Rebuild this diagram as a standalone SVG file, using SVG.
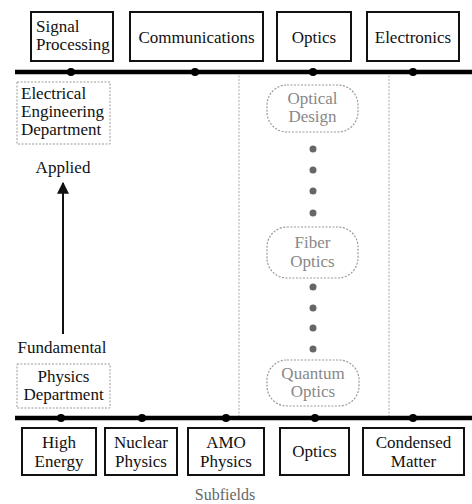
<svg xmlns="http://www.w3.org/2000/svg" width="472" height="504" viewBox="0 0 472 504">
<style>
text{font-family:'Liberation Serif','Times New Roman','DejaVu Serif',serif;font-size:17px;fill:#111;text-anchor:middle}
.box{fill:#fff;stroke:#111;stroke-width:2}
.dept{fill:#fff;stroke:#999;stroke-width:1;stroke-dasharray:2 1.5}
.sub{fill:#fff;stroke:#999;stroke-width:1.2;stroke-dasharray:2 1.5}
.gt{fill:#888}
.bus{stroke:#000;stroke-width:4.5}
.div{stroke:#aaa;stroke-width:1;stroke-dasharray:2 1.5}
.dot{fill:#000}
.gdot{fill:#666}
</style>
<defs>
<marker id="ah" viewBox="0 0 10 10" refX="9" refY="5" markerWidth="6" markerHeight="6" orient="auto"><path d="M0,0L10,5L0,10z" fill="#111"/></marker>
</defs>
<g id="connectors">
<line class="div" x1="239" y1="72" x2="239" y2="418"/>
<line class="div" x1="389" y1="72" x2="389" y2="418"/>
<line class="bus" x1="15" y1="72" x2="472" y2="72"/>
<line class="bus" x1="15" y1="418" x2="472" y2="418"/>
<circle class="dot" cx="71" cy="72" r="4"/>
<circle class="dot" cx="195" cy="72" r="4"/>
<circle class="dot" cx="313" cy="72" r="4"/>
<circle class="dot" cx="413" cy="72" r="4"/>
<circle class="dot" cx="61" cy="418" r="4"/>
<circle class="dot" cx="142" cy="418" r="4"/>
<circle class="dot" cx="226" cy="418" r="4"/>
<circle class="dot" cx="315" cy="418" r="4"/>
<circle class="dot" cx="413" cy="418" r="4"/>
<line x1="63" y1="334" x2="63" y2="183" stroke="#111" stroke-width="2" marker-end="url(#ah)"/>
<circle class="gdot" cx="313" cy="149" r="3.5"/>
<circle class="gdot" cx="313" cy="170" r="3.5"/>
<circle class="gdot" cx="313" cy="191" r="3.5"/>
<circle class="gdot" cx="313" cy="213" r="3.5"/>
<circle class="gdot" cx="313" cy="287" r="3.5"/>
<circle class="gdot" cx="313" cy="308" r="3.5"/>
<circle class="gdot" cx="313" cy="328" r="3.5"/>
<circle class="gdot" cx="313" cy="349" r="3.5"/>
</g>
<g id="signal-processing"><rect class="box" x="31" y="12" width="82" height="49"/><text x="36" y="32" style="text-anchor:start">Signal</text><text x="36" y="50" style="text-anchor:start">Processing</text></g>
<g id="communications"><rect class="box" x="130" y="12" width="133" height="49"/><text x="196.5" y="43">Communications</text></g>
<g id="optics-top"><rect class="box" x="277" y="12" width="74" height="49"/><text x="314" y="43">Optics</text></g>
<g id="electronics"><rect class="box" x="367" y="12" width="92" height="49"/><text x="413" y="43">Electronics</text></g>
<g id="ee-dept"><rect class="dept" x="17" y="82" width="93" height="62"/><text x="21" y="99" style="text-anchor:start">Electrical</text><text x="21" y="117" style="text-anchor:start">Engineering</text><text x="21" y="135" style="text-anchor:start">Department</text></g>
<g id="applied"><text x="63" y="173">Applied</text></g>
<g id="fundamental"><text x="62" y="353">Fundamental</text></g>
<g id="physics-dept"><rect class="dept" x="17" y="364" width="93" height="44"/><text x="63.5" y="382">Physics</text><text x="63.5" y="400">Department</text></g>
<g id="optical-design"><rect class="sub" x="267" y="85" width="91" height="47" rx="20"/><text class="gt" x="312.5" y="104">Optical</text><text class="gt" x="312.5" y="122">Design</text></g>
<g id="fiber-optics"><rect class="sub" x="267" y="227" width="91" height="51" rx="20"/><text class="gt" x="312.5" y="248">Fiber</text><text class="gt" x="312.5" y="267">Optics</text></g>
<g id="quantum-optics"><rect class="sub" x="267" y="360" width="92" height="46" rx="20"/><text class="gt" x="313" y="379">Quantum</text><text class="gt" x="313" y="397">Optics</text></g>
<g id="high-energy"><rect class="box" x="22" y="428" width="74" height="47"/><text x="59" y="448">High</text><text x="59" y="467">Energy</text></g>
<g id="nuclear-physics"><rect class="box" x="105" y="428" width="72" height="47"/><text x="141" y="448">Nuclear</text><text x="141" y="467">Physics</text></g>
<g id="amo-physics"><rect class="box" x="188" y="428" width="76" height="47"/><text x="226" y="448">AMO</text><text x="226" y="467">Physics</text></g>
<g id="optics-bottom"><rect class="box" x="280" y="428" width="69" height="47"/><text x="314.5" y="457">Optics</text></g>
<g id="condensed-matter"><rect class="box" x="363" y="428" width="101" height="47"/><text x="413.5" y="448">Condensed</text><text x="413.5" y="467">Matter</text></g>
<g id="subfields"><text x="225" y="500" style="font-size:16px;fill:#666">Subfields</text></g>
</svg>
